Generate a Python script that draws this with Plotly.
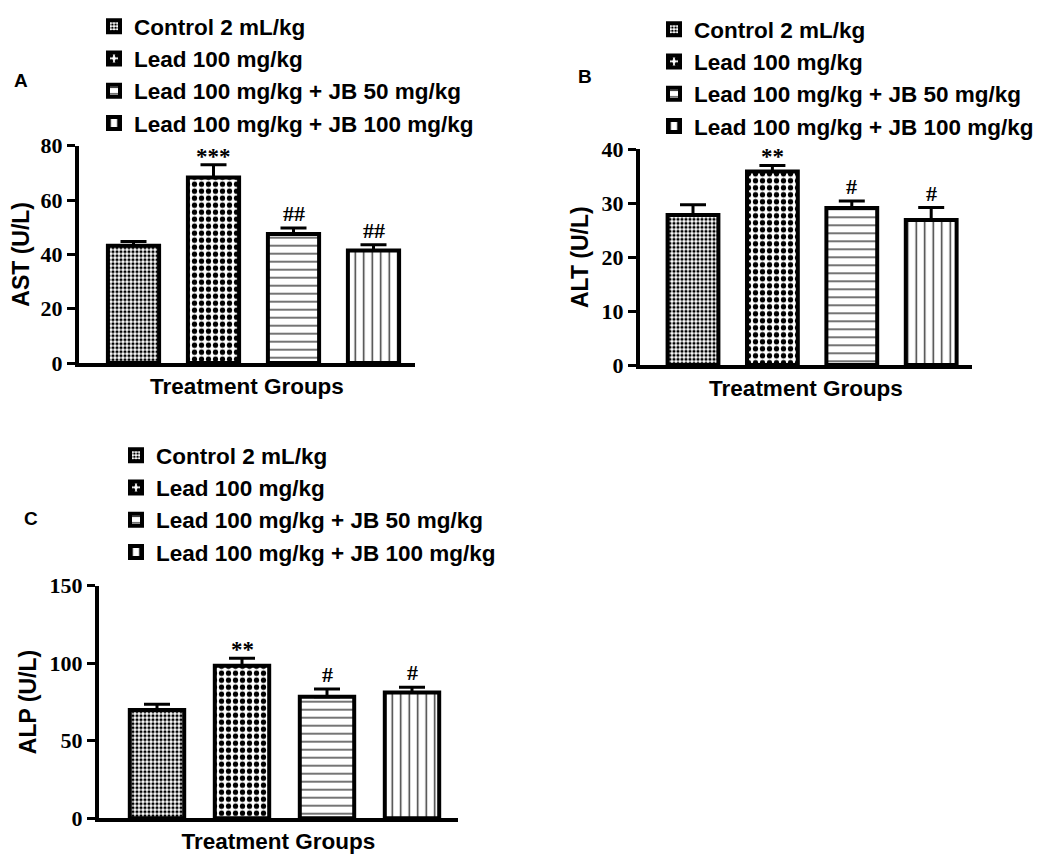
import plotly.graph_objects as go

groups = ["Control 2 mL/kg", "Lead 100 mg/kg", "Lead 100 mg/kg + JB 50 mg/kg", "Lead 100 mg/kg + JB 100 mg/kg"]

ast_mean = [43.2, 68.3, 47.5, 41.4]
ast_err = [1.5, 4.7, 2.2, 2.1]
ast_sig = ["", "***", "##", "##"]

alt_mean = [27.8, 35.9, 29.1, 26.9]
alt_err = [1.9, 1.1, 1.3, 2.3]
alt_sig = ["", "**", "#", "#"]

alp_mean = [69.8, 98.4, 78.4, 81.2]
alp_err = [3.7, 4.8, 5.0, 3.3]
alp_sig = ["", "**", "#", "#"]

panels = [
    dict(label="A", ytitle="AST (U/L)", mean=ast_mean, err=ast_err, sig=ast_sig, ymax=80, dtick=20),
    dict(label="B", ytitle="ALT (U/L)", mean=alt_mean, err=alt_err, sig=alt_sig, ymax=40, dtick=10),
    dict(label="C", ytitle="ALP (U/L)", mean=alp_mean, err=alp_err, sig=alp_sig, ymax=150, dtick=50),
]

# the page body has an 8px margin, so the figure is placed at (8, 8) in the window
OFF = 8
W, H = 1047 - OFF, 855 - OFF

def px_x(v):
    return (v - OFF) / W

def px_y(v):
    return 1 - (v - OFF) / H

patterns = [
    dict(shape=".", size=4, solidity=0.5, fgcolor="black", bgcolor="white", fgopacity=1),
    dict(shape=".", size=7, solidity=0.45, fgcolor="black", bgcolor="white", fgopacity=1),
    dict(shape="-", size=8, solidity=0.17, fgcolor="#333", bgcolor="white", fgopacity=1),
    dict(shape="|", size=8.5, solidity=0.17, fgcolor="#333", bgcolor="white", fgopacity=1),
]

# window-pixel layout (left, right, top, bottom) of each panel plot area
boxes = [(79, 415, 145.7, 363), (640, 972, 149.3, 365), (99, 457.7, 585.7, 818.3)]
spacing = [80, 79.4, 85]
first_center = [133.5, 693, 157]
legend_pos = [(94, 5), (654, 8), (116, 434)]
label_pos = [(21, 80), (585, 77), (31, 518)]

fig = go.Figure()
SANS = "Liberation Sans"
SERIF = "Liberation Serif"

for p, panel in enumerate(panels):
    ax = "" if p == 0 else str(p + 1)
    leg = "legend" if p == 0 else f"legend{p + 1}"
    for i, g in enumerate(groups):
        fig.add_trace(go.Bar(
            x=[i], y=[panel["mean"][i]],
            width=0.64,
            marker=dict(color="white", line=dict(color="black", width=4), pattern=patterns[i]),
            error_y=dict(type="data", array=[panel["err"][i]], arrayminus=[0], symmetric=False,
                         color="black", thickness=3, width=13),
            name=g, legend=leg, legendgroup=f"{p}-{i}",
            xaxis="x" + ax, yaxis="y" + ax,
        ))
        s = panel["sig"][i]
        if s:
            fig.add_annotation(
                x=i, y=panel["mean"][i] + panel["err"][i], xref="x" + ax, yref="y" + ax,
                text=s, showarrow=False, yanchor="bottom",
                yshift=-6 if s.startswith("*") else 0,
                font=dict(family=SERIF, size=23 if s.startswith("*") else 22, color="black"),
            )
    l, r, t, b = boxes[p]
    a = -(first_center[p] - l) / spacing[p]
    bnd = a + (r - l) / spacing[p]
    xa = dict(domain=[px_x(l), px_x(r)], range=[a, bnd], showticklabels=False, ticks="",
              showline=True, linecolor="black", linewidth=4, showgrid=False, zeroline=False,
              title=dict(text="Treatment Groups", font=dict(family=SANS, size=22.5, color="black"), standoff=13),
              anchor="y" + ax)
    ya = dict(domain=[px_y(b), px_y(t)], range=[0, panel["ymax"]], dtick=panel["dtick"],
              showline=True, linecolor="black", linewidth=4, showgrid=False, zeroline=False,
              ticks="outside", ticklen=8, tickwidth=3, tickcolor="black",
              tickfont=dict(family=SERIF, size=22, color="black"),
              title=dict(text=panel["ytitle"], font=dict(family=SANS, size=23, color="black"), standoff=8),
              anchor="x" + ax)
    fig.layout["xaxis" + ax] = xa
    fig.layout["yaxis" + ax] = ya
    lx, ly = legend_pos[p]
    fig.layout[leg] = dict(x=px_x(lx), y=px_y(ly), xanchor="left", yanchor="top",
                           font=dict(family=SANS, size=22.5, color="black", weight="bold"),
                           tracegroupgap=0, bgcolor="rgba(0,0,0,0)", traceorder="grouped")
    fx, fy = label_pos[p]
    fig.add_annotation(x=px_x(fx), y=px_y(fy), xref="paper", yref="paper", text=panel["label"],
                       xanchor="center", yanchor="middle", showarrow=False,
                       font=dict(family=SANS, size=19, color="black", weight="bold"))

fig.update_layout(
    width=W, height=H, margin=dict(l=0, r=0, t=0, b=0, autoexpand=False),
    plot_bgcolor="white", paper_bgcolor="white", showlegend=True, barmode="overlay",
    font=dict(family=SANS, color="black", weight="bold"),
)

fig.write_html("out.html")
